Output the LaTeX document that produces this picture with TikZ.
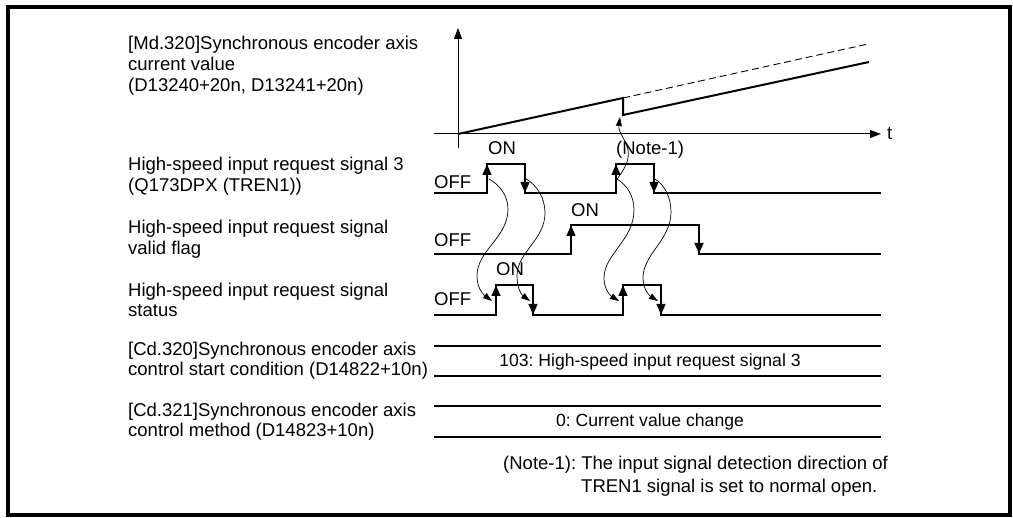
\documentclass[tikz,border=0pt]{standalone}
\usepackage{fontspec}
\setmainfont{Liberation Sans}
\usetikzlibrary{arrows.meta}
\frenchspacing
\begin{document}
\begin{tikzpicture}[x=1pt,y=-1pt,
  lbl/.style={anchor=base west, inner sep=0pt, font=\fontsize{18.5}{21}\selectfont},
  val/.style={anchor=base, inner sep=0pt, font=\fontsize{17.6}{21}\selectfont},
  sig/.style={line width=2.6pt, line cap=butt, line join=miter},
  sigarr/.style={line width=2.6pt, -{Triangle[width=8.5pt,length=11pt]}},
  axisarr/.style={line width=1pt, -{Triangle[width=8pt,length=11pt]}},
  wave/.style={line width=0.7pt, -{Triangle[width=6pt,length=9pt]}},
  box/.style={line width=2.6pt},
]
\useasboundingbox (0,0) rectangle (1013,518);
\draw[line width=3.5pt] (8,7) rectangle (1010,515);

% ---- labels on the left
\node[lbl] (md1) at (128,50) {[Md.320]Synchronous encoder axis};
\node[lbl] (md2) at (128,71) {current value};
\node[lbl] (md3) at (128,92) {(D13240+20n, D13241+20n)};
\node[lbl] (tr1) at (128,171) {High-speed input request signal 3};
\node[lbl] (tr2) at (128,191.5) {(Q173DPX (TREN1))};
\node[lbl] (vf1) at (128,233.5) {High-speed input request signal};
\node[lbl] (vf2) at (128,254.5) {valid flag};
\node[lbl] (st1) at (128,296.5) {High-speed input request signal};
\node[lbl] (st2) at (128,316.5) {status};
\node[lbl] (cs1) at (128,356) {[Cd.320]Synchronous encoder axis};
\node[lbl] (cs2) at (128,376) {control start condition (D14822+10n)};
\node[lbl] (cm1) at (128,416.5) {[Cd.321]Synchronous encoder axis};
\node[lbl] (cm2) at (128,436.5) {control method (D14823+10n)};

% ---- current value graph
\coordinate (O) at (458,134);
\coordinate (ybot) at (458,148);
\coordinate (ytop) at (458,28);
\coordinate (xl) at (434,134);
\coordinate (xr) at (881,134);
\draw[axisarr] (ybot) -- (ytop);
\draw[axisarr] (xl) -- (xr);
\node[lbl] (t) at (887,140) {t};
\coordinate (p1) at (623,98);
\coordinate (p2) at (623,115);
\coordinate (p3) at (869,62);
\coordinate (p4) at (868,44);
\draw[line width=2pt, line join=miter] (O) -- (p1) -- (p2) -- (p3);
\draw[line width=0.9pt, dash pattern=on 7pt off 4pt] (p1) -- (p4);

% ---- TREN1 signal
\draw[sig] (434,193) -| (487,164) -| (525,193) -| (616,164) -| (654,193) -- (881,193);
\draw[sigarr] (487,193) -- (487,164);
\draw[sigarr] (525,164) -- (525,193);
\draw[sigarr] (616,193) -- (616,164);
\draw[sigarr] (654,164) -- (654,193);
\node[lbl] (off1) at (434,189) {OFF};
\node[lbl] (on1) at (488,155) {ON};
\node[lbl] (note) at (616,155) {(Note-1)};

% ---- valid flag
\draw[sig] (434,254) -| (571,225) -| (699,254) -- (881,254);
\draw[sigarr] (571,254) -- (571,225);
\draw[sigarr] (699,225) -- (699,254);
\node[lbl] (off2) at (434,247) {OFF};
\node[lbl] (on2) at (571,217) {ON};

% ---- status
\draw[sig] (434,315) -| (496,285) -| (533,315) -| (623,285) -| (661,315) -- (881,315);
\draw[sigarr] (496,315) -- (496,285);
\draw[sigarr] (533,285) -- (533,315);
\draw[sigarr] (623,315) -- (623,285);
\draw[sigarr] (661,285) -- (661,315);
\node[lbl] (off3) at (434,306) {OFF};
\node[lbl] (on3) at (496,276) {ON};

% ---- wavy connectors
\draw[wave] (617,179) .. controls (624,170) and (630,160) .. (628,150)
  .. controls (626,140) and (618,132) .. (620,117);
\draw[wave] (489,179) .. controls (500,185) and (508,196) .. (508,209)
  .. controls (508,238) and (477,250) .. (477,276)
  .. controls (477,289) and (484,295) .. (492,301);
\draw[wave] (526,179) .. controls (537,185) and (545,198) .. (545,213)
  .. controls (545,240) and (517,252) .. (517,276)
  .. controls (517,289) and (522,295) .. (530,301);
\draw[wave] (617,179) .. controls (627,185) and (634,196) .. (634,210)
  .. controls (634,240) and (604,254) .. (604,278)
  .. controls (604,290) and (611,296) .. (619,301);
\draw[wave] (655,179) .. controls (665,185) and (671,198) .. (671,212)
  .. controls (671,240) and (643,254) .. (643,278)
  .. controls (643,290) and (650,296) .. (658,301);

% ---- value boxes
\draw[box] (434,346) -- (881,346);
\draw[box] (434,376) -- (881,376);
\node[val] (v1) at (650,367) {103: High-speed input request signal 3};
\draw[box] (434,406) -- (881,406);
\draw[box] (434,437) -- (881,437);
\node[val] (v2) at (650,427) {0: Current value change};

% ---- note
\node[lbl] (n1) at (503,470) {(Note-1): The input signal detection direction of};
\node[lbl] (n2) at (581,493) {TREN1 signal is set to normal open.};
\end{tikzpicture}
\end{document}
